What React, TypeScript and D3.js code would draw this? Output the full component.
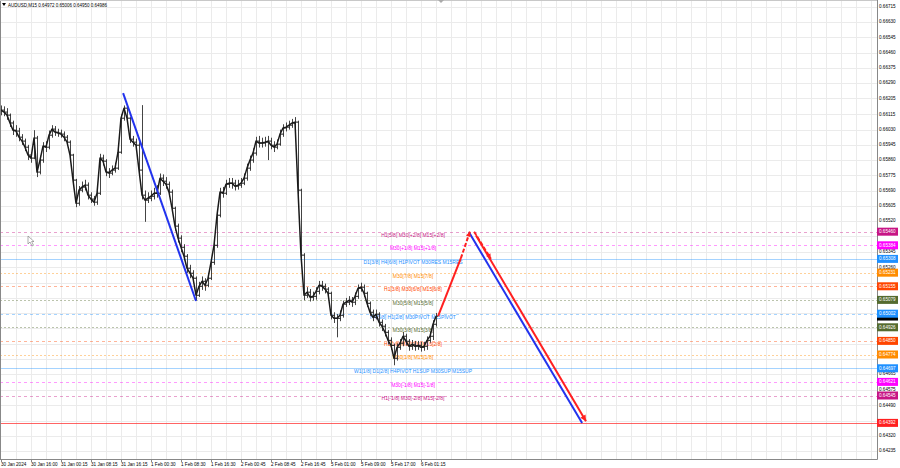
import React from 'react';
import * as d3 from 'd3';

const title = 'AUDUSD,M15  0.64972 0.65006 0.64950 0.64986';

const closes = [
  0.66139, 0.66128, 0.66111, 0.66067, 0.66027, 0.66022, 0.65988, 0.65966, 0.65932, 0.65888,
  0.65871, 0.65983, 0.65793, 0.65860, 0.65938, 0.65932, 0.65999, 0.66033, 0.66016, 0.66011,
  0.66005, 0.65988, 0.65960, 0.65888, 0.65748, 0.65619, 0.65692, 0.65709, 0.65720, 0.65664,
  0.65642, 0.65625, 0.65675, 0.65871, 0.65854, 0.65793, 0.65787, 0.65804, 0.65815, 0.65904,
  0.66094, 0.66150, 0.66094, 0.65977, 0.65960, 0.65943, 0.65804, 0.65664, 0.65636, 0.65647,
  0.65658, 0.65675, 0.65675, 0.65759, 0.65742, 0.65725, 0.65681, 0.65591, 0.65491, 0.65424,
  0.65373, 0.65323, 0.65256, 0.65228, 0.65200, 0.65105, 0.65155, 0.65183, 0.65161, 0.65200,
  0.65289, 0.65384, 0.65552, 0.65681, 0.65675, 0.65725, 0.65731, 0.65731, 0.65714, 0.65720,
  0.65731, 0.65759, 0.65815, 0.65860, 0.65899, 0.65966, 0.65955, 0.65955, 0.65960, 0.65966,
  0.65943, 0.65932, 0.65949, 0.66005, 0.66039, 0.66044, 0.66055, 0.66067, 0.66072, 0.65692,
  0.65329, 0.65105, 0.65122, 0.65094, 0.65099, 0.65127, 0.65161, 0.65155, 0.65139, 0.65116,
  0.64993, 0.64976, 0.64976, 0.64993, 0.65055, 0.65066, 0.65077, 0.65066, 0.65099, 0.65144,
  0.65150, 0.65116, 0.65060, 0.65010, 0.64982, 0.64999, 0.64954, 0.64932, 0.64898, 0.64853,
  0.64825, 0.64753, 0.64814, 0.64837, 0.64876, 0.64848, 0.64820, 0.64831, 0.64820, 0.64825,
  0.64814, 0.64820, 0.64853, 0.64876, 0.64943, 0.64988,
];

const highs = [
  0.66165, 0.66160, 0.66150, 0.66120, 0.66080, 0.66055, 0.66040, 0.66005, 0.65980, 0.65945,
  0.65900, 0.66027, 0.65995, 0.65885, 0.65960, 0.65965, 0.66025, 0.66055, 0.66050, 0.66035,
  0.66030, 0.66020, 0.66000, 0.65970, 0.65895, 0.65755, 0.65715, 0.65740, 0.65750, 0.65735,
  0.65680, 0.65660, 0.65700, 0.65895, 0.65890, 0.65865, 0.65815, 0.65830, 0.65845, 0.65925,
  0.66115, 0.66165, 0.66160, 0.66100, 0.65995, 0.65980, 0.65960, 0.66167, 0.65690, 0.65680,
  0.65690, 0.65705, 0.65720, 0.65785, 0.65780, 0.65765, 0.65740, 0.65695, 0.65600, 0.65505,
  0.65440, 0.65390, 0.65335, 0.65275, 0.65245, 0.65210, 0.65180, 0.65210, 0.65200, 0.65230,
  0.65310, 0.65405, 0.65575, 0.65705, 0.65710, 0.65750, 0.65760, 0.65760, 0.65750, 0.65750,
  0.65760, 0.65785, 0.65840, 0.65885, 0.65925, 0.65990, 0.65995, 0.65985, 0.65990, 0.65995,
  0.65985, 0.65965, 0.65975, 0.66030, 0.66060, 0.66070, 0.66080, 0.66090, 0.66100, 0.66080,
  0.65700, 0.65340, 0.65150, 0.65140, 0.65125, 0.65150, 0.65185, 0.65185, 0.65170, 0.65150,
  0.65125, 0.65010, 0.65000, 0.65020, 0.65075, 0.65090, 0.65100, 0.65095, 0.65120, 0.65165,
  0.65175, 0.65165, 0.65125, 0.65070, 0.65025, 0.65025, 0.65010, 0.64970, 0.64945, 0.64910,
  0.64870, 0.64835, 0.64835, 0.64860, 0.64900, 0.64890, 0.64860, 0.64855, 0.64850, 0.64850,
  0.64845, 0.64845, 0.64875, 0.64900, 0.64965, 0.65006,
];

const lows = [
  0.66110, 0.66105, 0.66085, 0.66045, 0.66000, 0.65990, 0.65965, 0.65945, 0.65910, 0.65860,
  0.65845, 0.65865, 0.65765, 0.65780, 0.65845, 0.65905, 0.65920, 0.65985, 0.65995, 0.65990,
  0.65985, 0.65965, 0.65940, 0.65865, 0.65725, 0.65597, 0.65605, 0.65680, 0.65690, 0.65640,
  0.65620, 0.65605, 0.65610, 0.65665, 0.65830, 0.65770, 0.65760, 0.65775, 0.65790, 0.65805,
  0.65895, 0.66080, 0.66070, 0.65955, 0.65935, 0.65920, 0.65780, 0.65640, 0.65515, 0.65620,
  0.65630, 0.65640, 0.65650, 0.65665, 0.65715, 0.65700, 0.65655, 0.65565, 0.65465, 0.65400,
  0.65345, 0.65300, 0.65230, 0.65200, 0.65175, 0.65077, 0.65095, 0.65135, 0.65130, 0.65150,
  0.65190, 0.65275, 0.65370, 0.65540, 0.65650, 0.65665, 0.65705, 0.65700, 0.65690, 0.65695,
  0.65705, 0.65720, 0.65745, 0.65800, 0.65845, 0.65885, 0.65930, 0.65930, 0.65935, 0.65860,
  0.65920, 0.65905, 0.65920, 0.65940, 0.65990, 0.66020, 0.66030, 0.66040, 0.66045, 0.65670,
  0.65300, 0.65077, 0.65090, 0.65070, 0.65075, 0.65080, 0.65110, 0.65130, 0.65115, 0.65090,
  0.64970, 0.64950, 0.64870, 0.64960, 0.64980, 0.65040, 0.65050, 0.65040, 0.65050, 0.65085,
  0.65125, 0.65095, 0.65040, 0.64990, 0.64960, 0.64970, 0.64930, 0.64905, 0.64875, 0.64830,
  0.64800, 0.64714, 0.64740, 0.64800, 0.64820, 0.64825, 0.64795, 0.64800, 0.64795, 0.64800,
  0.64790, 0.64795, 0.64800, 0.64840, 0.64855, 0.64930,
];

const timeLabels = [
  '30 Jan 2024', '30 Jan 16:00', '31 Jan 00:15', '31 Jan 08:15', '31 Jan 16:15',
  '1 Feb 00:30', '1 Feb 08:30', '1 Feb 16:30', '2 Feb 00:45', '2 Feb 08:45',
  '2 Feb 16:45', '5 Feb 01:00', '5 Feb 09:00', '5 Feb 17:00', '6 Feb 01:15',
];

const priceTicks = [
  0.66715, 0.66630, 0.66545, 0.66460, 0.66375, 0.66290, 0.66205, 0.66115, 0.66030, 0.65945,
  0.65860, 0.65775, 0.65690, 0.65605, 0.65520, 0.65435, 0.65345, 0.65260, 0.65175, 0.65090,
  0.65005, 0.64920, 0.64835, 0.64750, 0.64665, 0.64575, 0.64490, 0.64405, 0.64320, 0.64235,
];

const levelValues = [
  0.65460, 0.65384, 0.65308, 0.65231, 0.65155, 0.65079, 0.65002,
  0.64926, 0.64850, 0.64774, 0.64697, 0.64621, 0.64545,
];
const levelLabels = [
  'H1[5/8] M30[+2/8] M15[+2/8]',
  'M30[+1/8] M15[+1/8]',
  'D1[3/8] H4[6/8] H1PIVOT M30RES M15RES',
  'M30[7/8] M15[7/8]',
  'H1[3/8] M30[6/8] M15[6/8]',
  'M30[5/8] M15[5/8]',
  'H4[5/8] H1[2/8] M30PIVOT M15PIVOT',
  'M30[3/8] M15[3/8]',
  'H1[1/8] M30[2/8] M15[2/8]',
  'M30[1/8] M15[1/8]',
  'W1[1/8] D1[2/8] H4PIVOT H1SUP M30SUP M15SUP',
  'M30[-1/8] M15[-1/8]',
  'H1[-1/8] M30[-2/8] M15[-2/8]',
];
const levelColors = [
  '#c71585', '#ff00ff', '#1e90ff', '#ff8c00', '#ff4500', '#556b2f', '#1e90ff',
  '#556b2f', '#ff4500', '#ff8c00', '#1e90ff', '#ff00ff', '#c71585',
];
const levelStyles = [
  'dash', 'dash', 'solid', 'dot', 'dash', 'dot', 'dash',
  'dot', 'dash', 'dot', 'solid', 'dash', 'dash',
];

const targetPrice = 0.64392;
const lastPrice = 0.64986;

// forecast / trend lines as [bar index, price]
const blueTrendLeft: [number, number][] = [[40.7, 0.66234], [65.0, 0.65073]];
const blueTrendRight: [number, number][] = [[156.0, 0.65457], [193.7, 0.64392]];
const redUpSolid: [number, number][] = [[145.7, 0.64988], [153.3, 0.65312]];
const redUpDashed: [number, number][] = [[153.3, 0.65312], [156.3, 0.65460]];
const redDownDashed: [number, number][] = [[157.7, 0.65460], [163.3, 0.65308]];
const redDownSolid: [number, number][] = [[158.3, 0.65440], [195.0, 0.64401]];

const FONT = "'Liberation Sans', Arial, sans-serif";

function arrowHead(p0: [number, number], p1: [number, number], len = 7, half = 3) {
  const dx = p1[0] - p0[0];
  const dy = p1[1] - p0[1];
  const L = Math.hypot(dx, dy) || 1;
  const ux = dx / L, uy = dy / L;
  const bx = p1[0] - ux * len, by = p1[1] - uy * len;
  const nx = -uy, ny = ux;
  return `${p1[0]},${p1[1]} ${bx + nx * half},${by + ny * half} ${bx - nx * half},${by - ny * half}`;
}

export default function App() {
  const plotR = 877;
  const plotB = 459;
  const x = d3.scaleLinear().domain([0, closes.length - 1]).range([1, 436]);
  const y = d3.scaleLinear().domain([0.64235, 0.66715]).range([451, 7]);
  const line = d3.line<[number, number]>().x((d) => x(d[0])).y((d) => y(d[1]));
  const px = (d: [number, number]): [number, number] => [x(d[0]), y(d[1])];

  const vGrid: number[] = [];
  for (let k = 1; x(5 * k) < plotR; k++) vGrid.push(x(5 * k));

  const tagValues = [...levelValues, targetPrice, lastPrice];
  const visibleTicks = priceTicks.filter(
    (v) => !tagValues.some((t) => Math.abs(y(v) - y(t)) < 4.6)
  );

  const levelLabelX = 413;

  return (
    <svg
      width={900}
      height={468}
      style={{ position: 'absolute', left: 0, top: 0, background: '#ffffff' }}
      fontFamily={FONT}
    >
      <rect x={0} y={0} width={900} height={468} fill="#ffffff" />
      {/* grid */}
      {vGrid.map((gx, i) => (
        <line key={'vg' + i} x1={gx + 0.5} x2={gx + 0.5} y1={0} y2={plotB} stroke="#ebebeb" strokeWidth={1} />
      ))}
      {priceTicks.map((v, i) => (
        <line key={'hg' + i} x1={0} x2={plotR} y1={Math.round(y(v)) + 0.5} y2={Math.round(y(v)) + 0.5} stroke="#ebebeb" strokeWidth={1} />
      ))}

      {/* level lines */}
      {levelValues.map((v, i) => {
        const st = levelStyles[i];
        return (
          <line
            key={'lv' + i}
            x1={0}
            x2={plotR}
            y1={Math.round(y(v)) + 0.5}
            y2={Math.round(y(v)) + 0.5}
            stroke={levelColors[i]}
            strokeOpacity={st === 'solid' ? 0.4 : 0.4}
            strokeWidth={1}
            strokeDasharray={st === 'dash' ? '3,3' : st === 'dot' ? '2,2' : undefined}
          />
        );
      })}
      <line x1={0} x2={plotR} y1={Math.round(y(targetPrice)) + 0.5} y2={Math.round(y(targetPrice)) + 0.5} stroke="#ff3030" strokeOpacity={0.75} strokeWidth={1} />

      {/* level labels */}
      {levelValues.map((v, i) => (
        <text
          key={'lt' + i}
          x={levelLabelX}
          y={y(v) + 3.6}
          fontSize={5}
          fill={levelColors[i]}
          textAnchor="middle"
          dominantBaseline="middle"
        >
          {levelLabels[i]}
        </text>
      ))}

      {/* price bars */}
      <g stroke="#1c1c1c" strokeWidth={1}>
        {closes.map((c, i) => {
          const o = i > 0 ? closes[i - 1] : c;
          const cx = Math.round(x(i)) + 0.5;
          return (
            <g key={'b' + i}>
              <line x1={cx} x2={cx} y1={y(highs[i])} y2={y(lows[i])} stroke="#444" />
              <line x1={cx - 1.5} x2={cx} y1={y(o)} y2={y(o)} />
              <line x1={cx} x2={cx + 1.5} y1={y(c)} y2={y(c)} />
            </g>
          );
        })}
      </g>
      <path
        d={line(closes.map((c, i) => [i, c] as [number, number])) || ''}
        fill="none"
        stroke="#1a1a1a"
        strokeWidth={1.5}
        strokeLinejoin="round"
      />

      {/* blue trend lines */}
      <path d={line(blueTrendLeft) || ''} stroke="#2233ee" strokeWidth={2} fill="none" />
      <path d={line(blueTrendRight) || ''} stroke="#2233ee" strokeWidth={2} fill="none" />

      {/* red forecast */}
      <path d={line(redUpSolid) || ''} stroke="#ff2020" strokeWidth={2} fill="none" />
      <path d={line(redUpDashed) || ''} stroke="#ff2020" strokeWidth={2} fill="none" strokeDasharray="4,2" />
      <polygon points={arrowHead(px(redUpDashed[0]), px(redUpDashed[1]), 5, 2.5)} fill="#ff2020" />
      <path d={line(redDownDashed) || ''} stroke="#ff2020" strokeWidth={2} fill="none" strokeDasharray="4,2" />
      <polygon points={arrowHead(px(redDownDashed[0]), px(redDownDashed[1]), 5, 2.5)} fill="#ff2020" />
      <path d={line(redDownSolid) || ''} stroke="#ff2020" strokeWidth={2} fill="none" />
      <polygon points={arrowHead(px(redDownSolid[0]), px(redDownSolid[1]), 6, 3)} fill="#ff2020" />

      {/* frame */}
      <line x1={0.5} x2={0.5} y1={0} y2={plotB} stroke="#888" />
      <line x1={0} x2={plotR} y1={0.5} y2={0.5} stroke="#c8c8c8" />
      <line x1={plotR + 0.5} x2={plotR + 0.5} y1={0} y2={plotB + 0.5} stroke="#888" />
      <line x1={0} x2={plotR + 0.5} y1={plotB + 0.5} y2={plotB + 0.5} stroke="#888" />

      {/* price axis labels */}
      {visibleTicks.map((v, i) => (
        <text key={'pt' + i} x={879} y={y(v)} fontSize={4.6} fill="#000" dominantBaseline="middle">
          {v.toFixed(5)}
        </text>
      ))}

      {/* current price tag (mostly hidden behind level tag) */}
      <rect x={877} y={y(lastPrice) - 4} width={21} height={8} fill="#000" />

      {/* level tags */}
      {levelValues.map((v, i) => (
        <g key={'tag' + i}>
          <rect x={877} y={y(v) - 4} width={21} height={8} fill={levelColors[i]} />
          <text x={879} y={y(v)} fontSize={4.6} fill="#fff" dominantBaseline="middle">
            {v.toFixed(5)}
          </text>
        </g>
      ))}
      <rect x={877} y={y(targetPrice) - 4} width={21} height={8} fill="#ff2020" />
      <text x={879} y={y(targetPrice)} fontSize={4.6} fill="#fff" dominantBaseline="middle">
        {targetPrice.toFixed(5)}
      </text>

      {/* time axis */}
      {timeLabels.map((t, k) => (
        <g key={'tl' + k}>
          <line x1={x(10 * k) + 0.5} x2={x(10 * k) + 0.5} y1={plotB} y2={plotB + 3} stroke="#888" />
          <text x={x(10 * k)} y={465.5} fontSize={4.6} fill="#000">
            {t}
          </text>
        </g>
      ))}

      {/* title */}
      <polygon points="2,3 6,3 4,6" fill="#000" />
      <text x={8} y={6.5} fontSize={4.5} fill="#000">
        {title}
      </text>

      {/* top shift marker */}
      <polygon points="438,0 444,0 441,3" fill="#aaa" />

      {/* mouse cursor */}
      <path d="M28,236 L28,244 L30,242 L32,246 L33.5,245.3 L31.6,241.5 L34,241.5 Z" fill="#fff" stroke="#777" strokeWidth={0.6} />
    </svg>
  );
}
